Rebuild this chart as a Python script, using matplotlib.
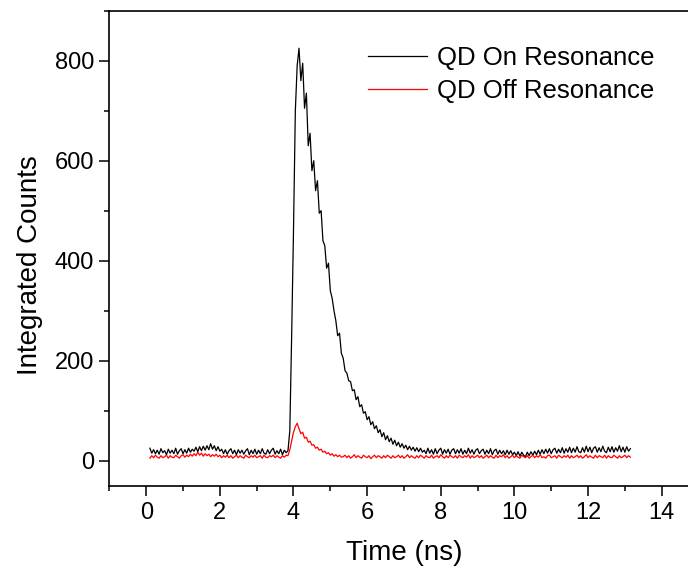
import numpy as np
import matplotlib
matplotlib.use("Agg")
import matplotlib.pyplot as plt
from matplotlib.ticker import MultipleLocator

plt.rcParams['font.family'] = ['Liberation Sans', 'DejaVu Sans']

# time grid of the histogram (ns)
t_start = 0.10
t_step = 0.05

# QD on resonance (black trace), counts per bin
on_counts = [
    # 0.10 - 1.25 ns baseline
    25, 15, 22, 14, 21, 13, 24, 16, 20, 12, 23, 15, 21, 14, 25, 13, 20, 24, 14, 22, 15, 25, 17, 23,
    # 1.30 - 2.00 ns small hump
    19, 27, 18, 28, 20, 29, 21, 30, 22, 34, 23, 30, 20, 28, 19,
    # 2.05 - 3.80 ns baseline
    23, 14, 22, 13, 20, 24, 14, 21, 12, 22, 15, 21, 13, 20, 24, 12, 21, 14, 23, 13,
    21, 14, 24, 15, 13, 22, 14, 21, 25, 13, 20, 14, 23, 12, 21, 16,
    # 3.85 - 4.10 ns rise
    20, 60, 250, 460, 700, 790,
    # 4.15 - 7.50 ns decay
    825, 760, 795, 705, 735, 630, 655, 580, 600, 540, 560, 495, 500, 440, 430, 385, 395, 340,
    325, 300, 280, 250, 255, 215, 205, 180, 175, 160, 158, 140, 142, 122, 128, 108, 112, 95,
    98, 82, 88, 72, 78, 64, 70, 56, 62, 48, 56, 42, 50, 38, 45, 33, 41, 30, 37, 27, 34, 25,
    31, 22, 29, 21, 27, 19, 26, 18, 25, 17,
    # 7.55 - 9.95 ns baseline
    21, 14, 25, 15, 22, 13, 24, 14, 21, 25, 13, 22, 15, 23, 13, 21, 24, 14, 22, 15,
    24, 13, 21, 14, 25, 15, 22, 13, 21, 24, 14, 20, 23, 13, 21, 14, 24, 12, 20, 23,
    13, 21, 14, 20, 12, 21, 13, 20, 12,
    # 10.00 - 10.60 ns dip
    17, 10, 18, 9, 17, 11, 8, 17, 10, 18, 11, 19, 12,
    # 10.65 - 13.15 ns baseline
    21, 13, 22, 14, 23, 15, 24, 14, 22, 25, 15, 23, 16, 26, 15, 24, 17, 27, 16, 25,
    17, 28, 18, 16, 26, 17, 29, 18, 27, 16, 25, 28, 17, 26, 18, 29, 19, 16, 27, 18,
    28, 17, 26, 19, 30, 18, 27, 17, 28, 19, 24,
]

# QD off resonance (red trace)
off_counts = [
    5, 10, 6, 11, 7, 5, 10, 6, 8, 11, 5, 10, 7, 6, 11, 8, 5, 10, 12, 7, 11, 8, 13, 9,
    14, 10, 17, 11, 15, 9, 14, 10, 13, 8, 12, 9, 13, 8, 11,
    6, 10, 7, 11, 6, 10, 5, 8, 11, 6, 10, 7, 5, 11, 8, 6, 10, 7, 11, 6,
    8, 10, 5, 11, 7, 6, 10, 8, 11, 6, 10, 7, 5, 10, 7, 11,
    10, 22, 40, 57, 68, 75,
    64, 54, 57, 45, 47, 37, 39, 31, 32, 25, 27, 21, 23, 17, 19, 14, 16, 11, 14, 9, 12, 8, 11, 7,
    8, 11, 6, 10, 5, 8, 12, 6, 10, 7, 5, 11, 8, 6, 10, 4, 8, 11, 6, 10,
    8, 5, 10, 6, 11, 8, 5, 10, 6, 8, 11, 6, 10, 5, 8, 12, 6, 10, 7, 5,
    10, 6, 11, 8, 5, 10, 7, 6, 11, 5, 8, 10, 6, 12, 8, 5, 10, 6, 11, 8,
    6, 10, 5, 11, 8, 6, 10, 7, 12, 5, 10, 6, 8, 11, 6, 10, 5, 8, 11, 6,
    10, 7, 5, 11, 6, 10, 8, 12, 6, 10, 5, 8, 11, 6, 10, 7, 5, 11, 8, 6,
    10, 5, 8, 11, 6, 10, 7, 12, 6, 8, 5, 10, 11, 6, 8, 10, 5, 11, 8, 6,
    10, 7, 11, 5, 10, 6, 8, 11, 6, 10, 5, 8, 12, 6, 10, 7, 5, 11, 6, 10,
    8, 6, 11, 5, 10, 7, 6, 11, 8, 5, 10, 6, 8, 11, 6, 10, 7,
]

t_on = t_start + t_step * np.arange(len(on_counts))
t_off = t_start + t_step * np.arange(len(off_counts))

fig = plt.figure(figsize=(6.88, 5.79), dpi=100)
# axes run to x=15, a bit past the right edge of the picture
ax = fig.add_axes([109.4 / 688, 1 - 485.7 / 579, 589.1 / 688, 475 / 579])

ax.plot(t_on, on_counts, color='black', lw=0.9, label='QD On Resonance')
ax.plot(t_off, off_counts, color='red', lw=0.9, label='QD Off Resonance')

ax.set_xlim(-1, 15)
ax.set_ylim(-50, 900)
ax.xaxis.set_major_locator(MultipleLocator(2))
ax.xaxis.set_minor_locator(MultipleLocator(1))
ax.yaxis.set_major_locator(MultipleLocator(200))
ax.yaxis.set_minor_locator(MultipleLocator(100))
ax.tick_params(which='major', direction='out', length=7, width=1.1, labelsize=17)
ax.tick_params(which='minor', direction='out', length=3.5, width=1.1)
ax.tick_params(axis='x', which='major', pad=5)
ax.tick_params(axis='y', which='major', pad=4)
for s in ax.spines.values():
    s.set_linewidth(1.2)

ax.set_xlabel('Time (ns)', fontsize=20)
ax.set_ylabel('Integrated Counts', fontsize=20)
ax.xaxis.set_label_coords(0.5, (485.7 - 553) / 475)
ax.xaxis.label.set_va('center')
ax.yaxis.set_label_coords((30 - 109.4) / 589.1, (485.7 - 265) / 475)
ax.yaxis.label.set_va('center')

ax.legend(loc='upper left', bbox_to_anchor=(368 / 688, 1 - 46 / 579),
          bbox_transform=fig.transFigure, frameon=False, fontsize=18.5,
          borderpad=0, borderaxespad=0, handlelength=2.3, handletextpad=0.39,
          labelspacing=0.35)

fig.savefig('out.png', dpi=100)
